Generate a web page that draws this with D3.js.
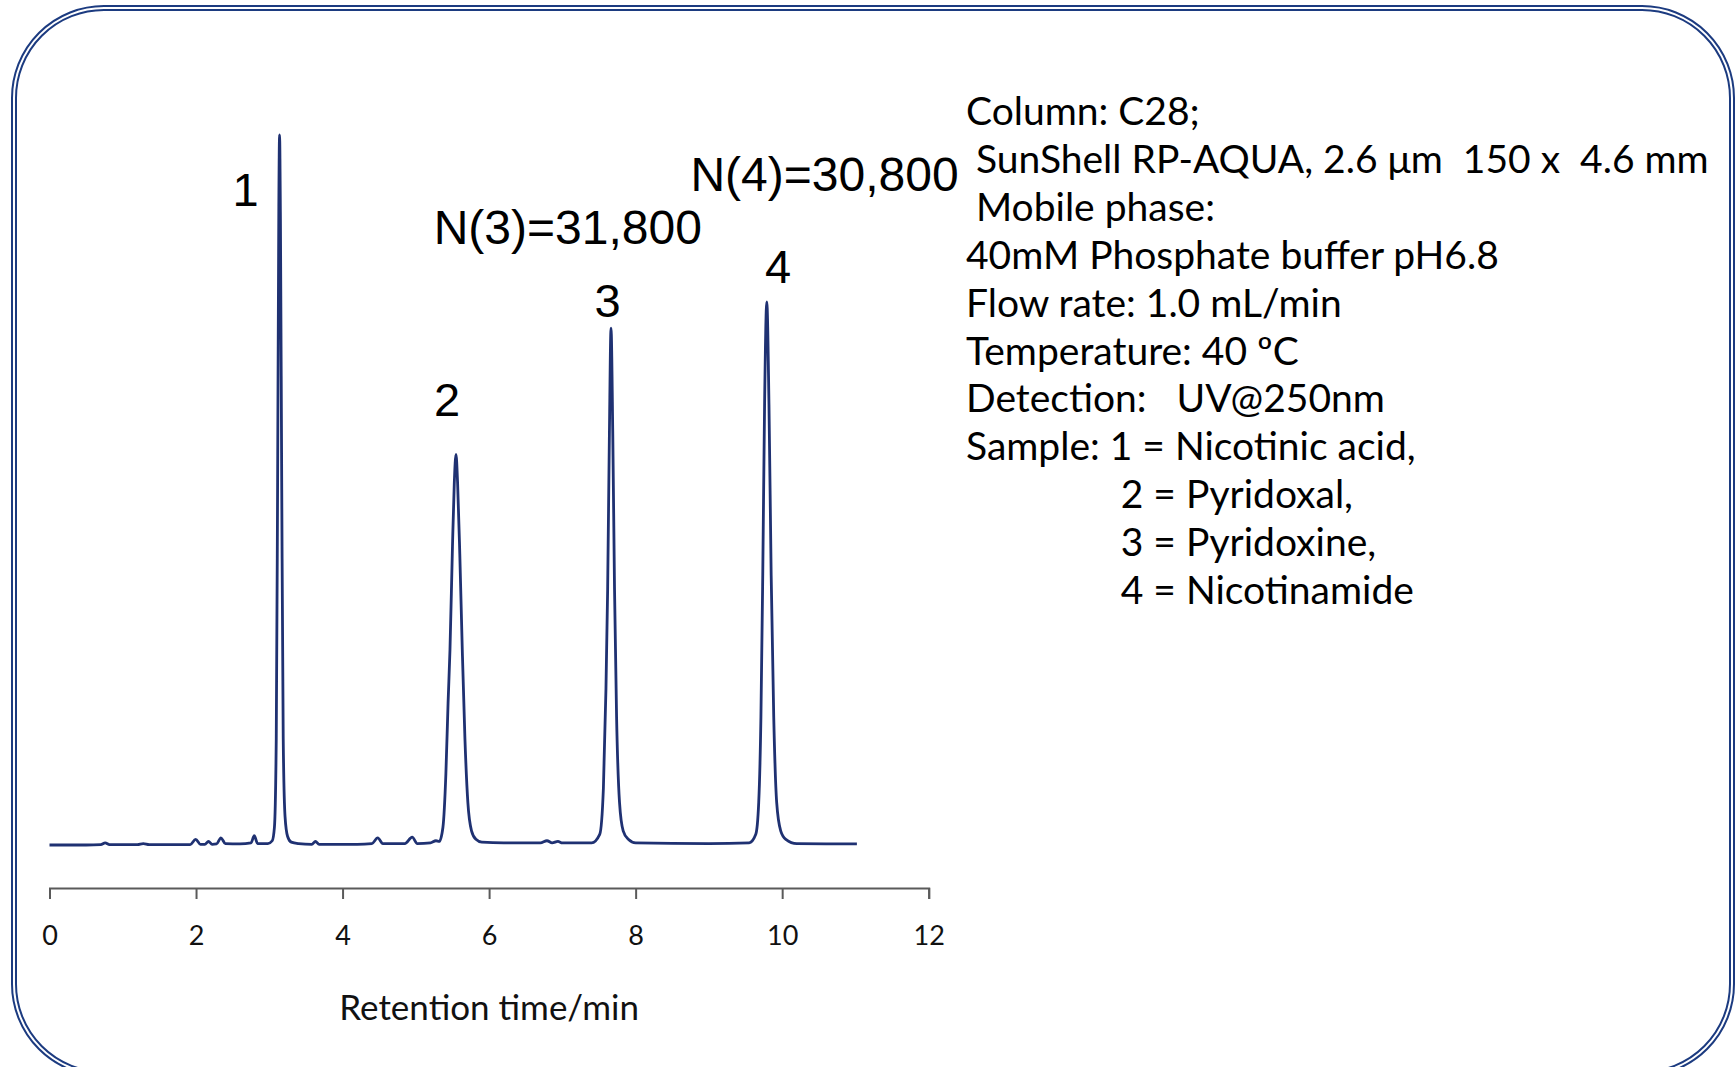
<!DOCTYPE html>
<html>
<head>
<meta charset="utf-8">
<script src="https://cdn.jsdelivr.net/npm/d3@7"></script>
<style>
  body { margin: 0; background: #fff; }
  svg { display: block; }
</style>
</head>
<body>
<div id="chart"></div>
<script>
/* ---------------- data ---------------- */

// retention time (min) and detector signal (relative, tallest peak = 100)
const traceTime = [
  0.00, 0.50, 0.70, 0.76, 0.82, 1.20, 1.28, 1.36, 1.92, 1.995, 2.06, 2.12, 2.17, 2.22,
  2.28, 2.34, 2.40, 2.60, 2.75, 2.795, 2.84, 2.98, 3.04, 3.07, 3.095, 3.113, 3.13, 3.14,
  3.152, 3.17, 3.19, 3.215, 3.25, 3.30, 3.40, 3.58, 3.63, 3.68, 4.20, 4.40, 4.48, 4.55,
  4.85, 4.95, 5.02, 5.20, 5.275, 5.32, 5.37, 5.41, 5.44, 5.466, 5.50, 5.525, 5.548, 5.57,
  5.60, 5.634, 5.67, 5.71, 5.76, 5.82, 5.90, 6.20, 6.70, 6.79, 6.86, 6.94, 7.00, 7.40,
  7.51, 7.56, 7.595, 7.618, 7.642, 7.664, 7.688, 7.712, 7.74, 7.78, 7.83, 7.90, 8.00, 9.00,
  9.55, 9.64, 9.68, 9.71, 9.735, 9.76, 9.79, 9.82, 9.85, 9.885, 9.925, 9.98, 10.05, 10.20,
  11.02
];
const traceSignal = [
  0.0, 0.0, 0.05, 0.3, 0.05, 0.05, 0.2, 0.05, 0.05, 0.8, 0.1, 0.1, 0.5, 0.1,
  0.15, 1.0, 0.2, 0.15, 0.3, 1.3, 0.2, 0.2, 0.6, 2.5, 15, 50, 90, 100,
  88, 50, 15, 4, 1.2, 0.4, 0.2, 0.1, 0.5, 0.1, 0.1, 0.2, 1.0, 0.2,
  0.2, 1.1, 0.2, 0.3, 0.6, 0.5, 2.5, 10, 20, 27.5, 42, 51, 55, 51,
  41, 27.5, 15, 6, 2, 0.8, 0.4, 0.3, 0.3, 0.6, 0.3, 0.5, 0.3, 0.3,
  1.5, 8, 22, 36, 58, 72.8, 58, 36, 18, 6, 2, 0.8, 0.3, 0.2,
  0.3, 1.5, 6, 18, 38, 62, 76.5, 62, 38, 18, 6, 2, 0.8, 0.2,
  0.15
];

const xTicks = [0, 2, 4, 6, 8, 10, 12];
const xTitle = "Retention time/min";

// peak numbers and where they sit (time, signal)
const peakNames = ["1", "2", "3", "4"];
const peakNameTime = [2.676, 5.425, 7.616, 9.943];
const peakNameSignal = [90.0, 60.4, 74.4, 79.2];

// plate counts written above peaks 3 and 4 (left edge at time, baseline at signal)
const plateLabels = ["N(3)=31,800", "N(4)=30,800"];
const plateTime = [5.244, 8.748];
const plateSignal = [84.6, 92.1];

const conditionLines = [
  "Column: C28;",
  " SunShell RP-AQUA, 2.6 \u03bcm  150 x  4.6 mm",
  " Mobile phase:",
  "40mM Phosphate buffer pH6.8",
  "Flow rate: 1.0 mL/min",
  "Temperature: 40 \u00baC",
  "Detection:   UV@250nm",
  "Sample: 1 = Nicotinic acid,",
  "2 = Pyridoxal,",
  "3 = Pyridoxine,",
  "4 = Nicotinamide"
];
const sampleIndentFrom = 8;   // lines from here are aligned under "1 ="

/* ---------------- chart ---------------- */

const width = 1735, height = 1067;
const traceColor = "#1f3172";
const frameColor = "#1c3b80";

const svg = d3.select("#chart")
    .append("svg")
    .attr("width", width)
    .attr("height", height);

svg.append("rect").attr("width", width).attr("height", height).attr("fill", "#fff");

// double rounded frame (bottom edge runs just below the picture)
[0, 4].forEach(function (inset) {
    svg.append("rect")
        .attr("x", 12 + inset)
        .attr("y", 6 + inset)
        .attr("width", 1722 - 2 * inset)
        .attr("height", 1070 - 2 * inset)
        .attr("rx", 92 - inset)
        .attr("ry", 92 - inset)
        .attr("fill", "none")
        .attr("stroke", frameColor)
        .attr("stroke-width", 2);
});

const x = d3.scaleLinear().domain([0, 12]).range([49.5, 928.7]);
const y = d3.scaleLinear().domain([0, 100]).range([845, 135]);
const axisY = 888;

// x axis
const xAxis = svg.append("g")
    .attr("transform", `translate(0, ${axisY})`)
    .call(d3.axisBottom(x)
        .tickValues(xTicks)
        .tickSize(11)
        .tickSizeOuter(11)
        .tickPadding(27)
        .tickFormat(d3.format("d")));

xAxis.attr("font-family", null).attr("font-size", null);
xAxis.select(".domain").attr("stroke", "#5a5a5a").attr("stroke-width", 2);
xAxis.selectAll(".tick line").attr("stroke", "#5a5a5a").attr("stroke-width", 2);
xAxis.selectAll(".tick text")
    .attr("fill", "#111")
    .style("font-family", "Lato, sans-serif")
    .style("font-size", "27px");

svg.append("text")
    .attr("x", x(6))
    .attr("y", 1020)
    .attr("text-anchor", "middle")
    .style("font-family", "Lato, sans-serif")
    .style("font-size", "35px")
    .attr("fill", "#111")
    .text(xTitle);

// chromatogram trace
const points = traceTime.map(function (t, i) { return { t: t, s: traceSignal[i] }; });

const line = d3.line()
    .x(function (d) { return x(d.t); })
    .y(function (d) { return y(d.s); })
    .curve(d3.curveMonotoneX);

svg.append("path")
    .datum(points)
    .attr("d", line)
    .attr("fill", "none")
    .attr("stroke", traceColor)
    .attr("stroke-width", 2.8)
    .attr("stroke-linejoin", "round");

// peak numbers
svg.selectAll(".peak-name")
    .data(peakNames)
    .enter()
    .append("text")
    .attr("class", "peak-name")
    .attr("x", function (d, i) { return x(peakNameTime[i]); })
    .attr("y", function (d, i) { return y(peakNameSignal[i]); })
    .attr("text-anchor", "middle")
    .style("font-family", "'Liberation Sans', Arial, sans-serif")
    .style("font-size", "47px")
    .attr("fill", "#000")
    .text(function (d) { return d; });

// plate numbers
svg.selectAll(".plate")
    .data(plateLabels)
    .enter()
    .append("text")
    .attr("class", "plate")
    .attr("x", function (d, i) { return x(plateTime[i]); })
    .attr("y", function (d, i) { return y(plateSignal[i]); })
    .style("font-family", "'Liberation Sans', Arial, sans-serif")
    .style("font-size", "48px")
    .attr("fill", "#000")
    .text(function (d) { return d; });

// chromatographic conditions
const condX = 966, condTop = 125, condStep = 47.9;
const condFont = "39px";

const probe = svg.append("text")
    .style("font-family", "Lato, sans-serif")
    .style("font-size", condFont)
    .style("white-space", "pre")
    .attr("visibility", "hidden")
    .text("Sample: ");
const indent = probe.node().getComputedTextLength() + 11;
probe.remove();

svg.append("g")
    .selectAll("text")
    .data(conditionLines)
    .enter()
    .append("text")
    .attr("x", function (d, i) { return i >= sampleIndentFrom ? condX + indent : condX; })
    .attr("y", function (d, i) { return condTop + i * condStep; })
    .style("font-family", "Lato, sans-serif")
    .style("font-size", condFont)
    .style("white-space", "pre")
    .attr("fill", "#000")
    .text(function (d) { return d; });
</script>
</body>
</html>
